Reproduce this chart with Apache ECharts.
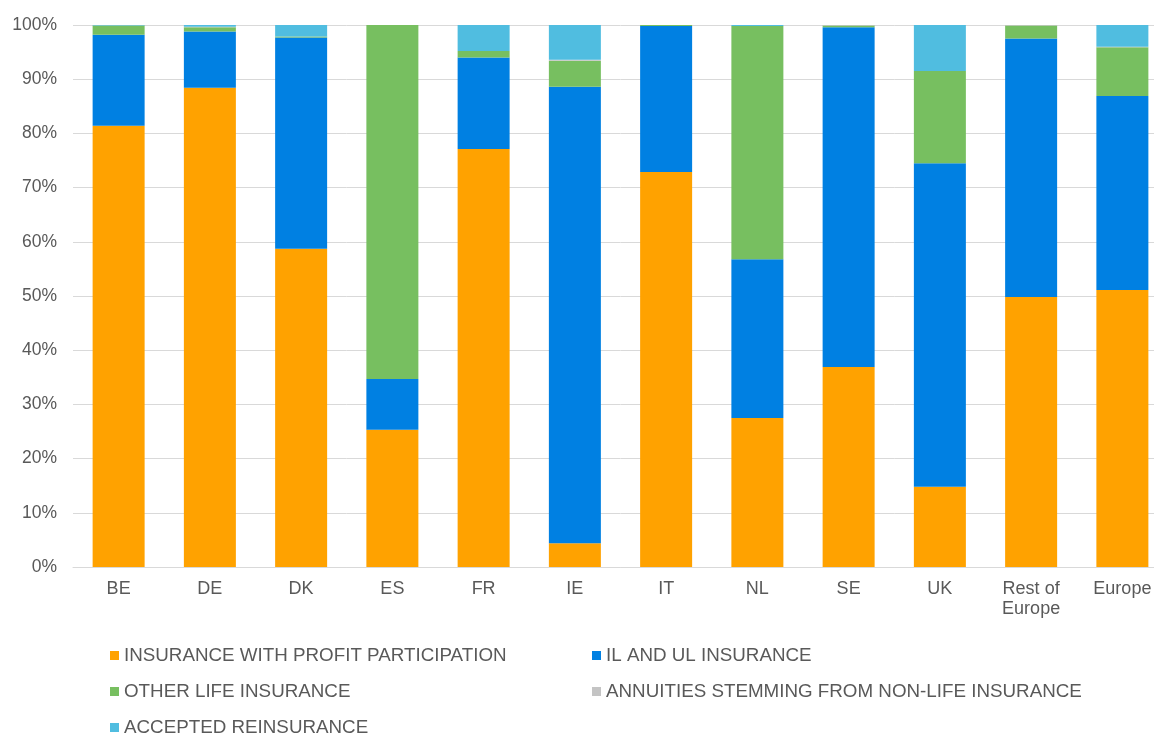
<!DOCTYPE html>
<html>
<head>
<meta charset="utf-8">
<script src="https://cdn.jsdelivr.net/npm/echarts@6/dist/echarts.min.js"></script>
<style>
  html, body { margin: 0; padding: 0; background: #fff; overflow: hidden; }
  /* the plot runs a little past the right edge of the window, as in the original */
  #chart { width: 1168px; height: 735px; }
</style>
</head>
<body>
<div id="chart"></div>
<script>
// categories and share per line of business (%)
const countries = ['BE', 'DE', 'DK', 'ES', 'FR', 'IE', 'IT', 'NL', 'SE', 'UK', 'Rest of\nEurope', 'Europe']
const profitPart = [81.4, 88.4, 58.7, 25.3, 77.1, 4.4, 72.9, 27.5, 36.9, 14.8, 49.8, 51.1]
const ilUl = [16.8, 10.4, 39.0, 9.4, 16.9, 84.2, 26.9, 29.3, 62.7, 59.7, 47.7, 35.8]
const otherLife = [1.7, 0.8, 0.2, 65.3, 1.2, 4.8, 0.2, 43.0, 0.3, 17.0, 2.4, 9.0]
const annuities = [0, 0.1, 0, 0, 0, 0.2, 0, 0, 0.1, 0, 0.1, 0.1]
const reinsurance = [0.1, 0.3, 2.1, 0, 4.8, 6.4, 0, 0.2, 0, 8.5, 0, 4.0]
const yTicks = ['0%', '10%', '20%', '30%', '40%', '50%', '60%', '70%', '80%', '90%', '100%']

const names = [
    'INSURANCE WITH PROFIT PARTICIPATION',
    'IL AND UL INSURANCE',
    'OTHER LIFE INSURANCE',
    'ANNUITIES STEMMING FROM NON-LIFE INSURANCE',
    'ACCEPTED REINSURANCE'
]
const colors = ['#FFA200', '#0080E2', '#77BF60', '#C4C4C4', '#50BDE0']
const values = [profitPart, ilUl, otherLife, annuities, reinsurance]
const font = 'Liberation Sans, Arial'

const chart = echarts.init(document.getElementById('chart'))

// one legend per item so the two-column layout sits where the original has it
const legendPos = [[110, 646], [592, 646], [110, 682], [592, 682], [110, 718]]
const legends = names.map((n, i) => ({
    data: [n],
    left: legendPos[i][0],
    top: legendPos[i][1],
    padding: 0,
    itemWidth: 9,
    itemHeight: 9,
    icon: 'rect',
    itemGap: 0,
    textStyle: { color: '#595959', fontSize: 18.8, fontFamily: font },
    selectedMode: false
}))

const series = names.map((n, i) => ({
    name: n,
    type: 'bar',
    stack: 'total',
    barWidth: 52,
    itemStyle: { color: colors[i] },
    data: values[i]
}))

chart.setOption({
    animation: false,
    color: colors,
    legend: legends,
    grid: { left: 73, top: 25, bottom: 168, right: 0 },
    xAxis: {
        type: 'category',
        data: countries,
        axisTick: { show: false },
        axisLine: { lineStyle: { color: '#d9d9d9', width: 1 } },
        axisLabel: {
            color: '#595959', fontSize: 18, margin: 12, lineHeight: 20,
            fontFamily: font, interval: 0
        }
    },
    yAxis: {
        type: 'value',
        min: 0,
        max: 100,
        interval: 10,
        axisLabel: {
            color: '#595959', fontSize: 17.5, margin: 16,
            fontFamily: font,
            formatter: v => yTicks[Math.round(v / 10)]
        },
        splitLine: { lineStyle: { color: '#d9d9d9', width: 1 } }
    },
    series: series
})
</script>
</body>
</html>
